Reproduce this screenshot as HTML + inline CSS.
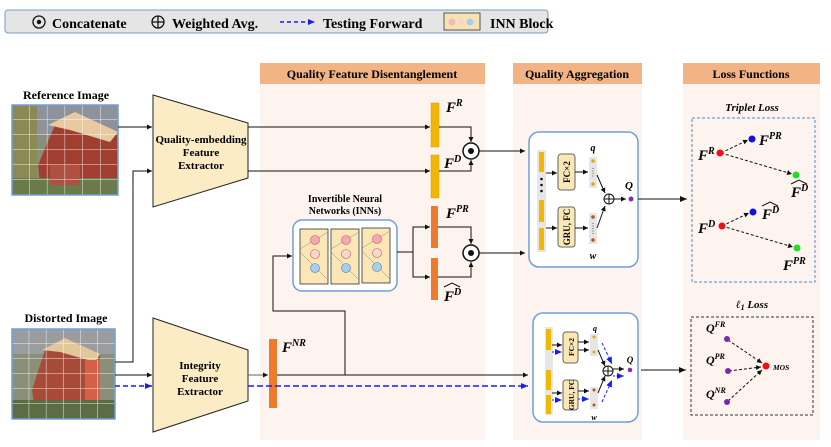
<!DOCTYPE html>
<html><head><meta charset="utf-8"><style>
html,body{margin:0;padding:0;background:#fff;}
svg{display:block;font-family:"Liberation Serif",serif;}
.b{font-weight:bold;}
</style></head><body>
<svg width="831" height="447" viewBox="0 0 831 447" xmlns="http://www.w3.org/2000/svg">
<defs>
<marker id="a" markerWidth="8" markerHeight="8" refX="7" refY="4" orient="auto" markerUnits="userSpaceOnUse"><path d="M0,1 L7,4 L0,7 Z" fill="#111"/></marker>
<marker id="ab" markerWidth="8" markerHeight="8" refX="7" refY="4" orient="auto" markerUnits="userSpaceOnUse"><path d="M0,1 L7,4 L0,7 Z" fill="#1a1aff"/></marker>
<marker id="as" markerWidth="6" markerHeight="6" refX="5" refY="3" orient="auto" markerUnits="userSpaceOnUse"><path d="M0,0.5 L5,3 L0,5.5 Z" fill="#111"/></marker>
<pattern id="grid" x="12" y="105" width="17.7" height="15" patternUnits="userSpaceOnUse"><path d="M17.7,0 V15 M0,15 H17.7" stroke="#fff" stroke-width="1" fill="none" opacity="0.85"/></pattern>
<pattern id="grid2" x="12" y="329" width="17.2" height="15" patternUnits="userSpaceOnUse"><path d="M17.2,0 V15 M0,15 H17.2" stroke="#fff" stroke-width="1" fill="none" opacity="0.85"/></pattern>
</defs>

<rect x="5" y="10" width="543" height="23" rx="3" fill="#e5e5e5" stroke="#7a9ccc" stroke-width="1"/>
<circle cx="39" cy="22" r="6" fill="none" stroke="#111" stroke-width="1.3"/><circle cx="39" cy="22" r="2.2" fill="#111"/>
<text x="52" y="28" class="b" font-size="14">Concatenate</text>
<circle cx="158" cy="22" r="6" fill="none" stroke="#111" stroke-width="1.3"/><path d="M152,22 H164 M158,16 V28" stroke="#111" stroke-width="1.3"/>
<text x="172" y="28" class="b" font-size="14">Weighted Avg.</text>
<line x1="280" y1="22" x2="315" y2="22" stroke="#1a1aff" stroke-width="1.5" stroke-dasharray="4,3" marker-end="url(#ab)"/>
<text x="323" y="28" class="b" font-size="14">Testing Forward</text>
<rect x="444" y="13" width="36" height="17" fill="#f6e3b4" stroke="#555"/>
<circle cx="452" cy="22" r="3.5" fill="#f3b8c0"/><circle cx="461" cy="22" r="3.5" fill="#f7d6c8"/><circle cx="470" cy="22" r="3.5" fill="#a9cdf0"/>
<text x="490" y="28" class="b" font-size="14">INN Block</text>

<rect x="260" y="63" width="225" height="21" fill="#f2b385"/>
<rect x="260" y="84" width="225" height="356" fill="#fdf4f0"/>
<text x="372" y="78" class="b" font-size="12" text-anchor="middle">Quality Feature  Disentanglement</text>
<rect x="513" y="63" width="129" height="21" fill="#f2b385"/>
<rect x="513" y="84" width="129" height="356" fill="#fdf4f0"/>
<text x="577" y="78" class="b" font-size="12" text-anchor="middle">Quality Aggregation</text>
<rect x="683" y="63" width="137" height="21" fill="#f2b385"/>
<rect x="683" y="84" width="137" height="356" fill="#fdf4f0"/>
<text x="751" y="78" class="b" font-size="12" text-anchor="middle">Loss Functions</text>

<text x="66" y="99" class="b" font-size="12" text-anchor="middle">Reference Image</text>
<rect x="12" y="105" width="106" height="90" fill="#8a8f7a"/>
<rect x="12" y="105" width="106" height="30" fill="#8d929c"/>
<rect x="12" y="105" width="25" height="90" fill="#8b8a55"/>
<path d="M38,165 L55,125 L80,115 L118,135 L118,185 L40,185 Z" fill="#a03f30"/>
<path d="M48,125 L75,112 L118,132 L110,142 L70,130 Z" fill="#e8c9a0"/>
<rect x="12" y="178" width="106" height="17" fill="#6b7a4a"/>
<rect x="50" y="165" width="30" height="20" fill="#b05040"/>
<rect x="12" y="105" width="106" height="90" fill="url(#grid)" stroke="#6fa0d8" stroke-width="1.5"/>

<text x="66" y="322" class="b" font-size="12" text-anchor="middle">Distorted Image</text>
<rect x="12" y="329" width="103" height="90" fill="#8b8f78"/>
<rect x="12" y="329" width="103" height="25" fill="#9a9ca0"/>
<path d="M32,390 L45,350 L70,340 L100,355 L100,410 L35,410 Z" fill="#a84a38"/>
<path d="M42,350 L65,338 L100,354 L95,362 L60,352 Z" fill="#e2c79a"/>
<rect x="85" y="360" width="15" height="50" fill="#d4604a"/>
<rect x="12" y="400" width="103" height="19" fill="#5c6d45"/>
<rect x="12" y="329" width="103" height="90" fill="url(#grid2)" stroke="#6fa0d8" stroke-width="1.5"/>

<polygon points="153,95 248,123 248,178 153,207" fill="#fbecc5" stroke="#222" stroke-width="1"/>
<text x="201" y="143" class="b" font-size="11" text-anchor="middle">Quality-embedding</text>
<text x="201" y="156" class="b" font-size="11" text-anchor="middle">Feature</text>
<text x="201" y="169" class="b" font-size="11" text-anchor="middle">Extractor</text>
<polygon points="153,318 248,350 248,401 153,432" fill="#fbecc5" stroke="#222" stroke-width="1"/>
<text x="200" y="369" class="b" font-size="11" text-anchor="middle">Integrity</text>
<text x="200" y="382" class="b" font-size="11" text-anchor="middle">Feature</text>
<text x="200" y="395" class="b" font-size="11" text-anchor="middle">Extractor</text>

<line x1="118" y1="127" x2="152" y2="127" stroke="#111" marker-end="url(#as)"/>
<polyline points="115,362 133,362 133,171 152,171" fill="none" stroke="#111" marker-end="url(#as)"/>
<line x1="115" y1="375" x2="152" y2="375" stroke="#111" marker-end="url(#as)"/>
<line x1="115" y1="386" x2="152" y2="386" stroke="#1a1aff" stroke-width="1.5" stroke-dasharray="5,3" marker-end="url(#ab)"/>

<line x1="248" y1="127" x2="430" y2="127" stroke="#111" marker-end="url(#as)"/>
<line x1="248" y1="171" x2="430" y2="171" stroke="#111" marker-end="url(#as)"/>
<rect x="431" y="103" width="8" height="44" fill="#f2b705" stroke="#d09800" stroke-width="0.5"/>
<rect x="431" y="155" width="8" height="43" fill="#f2b705" stroke="#d09800" stroke-width="0.5"/>
<text x="446" y="112" class="b" font-size="15" font-style="italic">F<tspan font-size="10" dy="-6">R</tspan></text>
<text x="444" y="168" class="b" font-size="15" font-style="italic">F<tspan font-size="10" dy="-6">D</tspan></text>
<polyline points="439,127 471,127 471,142" fill="none" stroke="#111" marker-end="url(#as)"/>
<polyline points="439,171 471,171 471,160" fill="none" stroke="#111" marker-end="url(#as)"/>
<circle cx="471" cy="151" r="8" fill="#fff" stroke="#111" stroke-width="1.5"/><circle cx="471" cy="151" r="3" fill="#111"/>
<line x1="479" y1="151" x2="525" y2="151" stroke="#111" marker-end="url(#as)"/>

<text x="345" y="202" class="b" font-size="10" text-anchor="middle">Invertible Neural</text>
<text x="345" y="214" class="b" font-size="10" text-anchor="middle">Networks (INNs)</text>
<rect x="293" y="220" width="104" height="71" rx="9" fill="#fff" stroke="#6fa0d8" stroke-width="1.5"/>
<g stroke="#333" stroke-width="0.8">
<rect x="300" y="229" width="28" height="55" fill="#fbe7b5"/>
<rect x="331" y="229" width="28" height="55" fill="#fbe7b5"/>
<rect x="362" y="228" width="28" height="55" fill="#fbe7b5"/>
</g>
<g stroke="#888" stroke-width="0.5" fill="none">
<path d="M300,249 L328,232 M300,252 L328,280 M331,249 L359,232 M331,252 L359,280 M362,248 L390,231 M362,251 L390,279"/>
</g>
<g stroke="#c55" stroke-width="0.6">
<circle cx="315" cy="240" r="4.5" fill="#f2a8b5"/><circle cx="346" cy="240" r="4.5" fill="#f2a8b5"/><circle cx="377" cy="239" r="4.5" fill="#f2a8b5"/>
<circle cx="315" cy="254" r="4.5" fill="#f8d8cc"/><circle cx="346" cy="254" r="4.5" fill="#f8d8cc"/><circle cx="377" cy="253" r="4.5" fill="#f8d8cc"/>
</g>
<g stroke="#57a" stroke-width="0.6">
<circle cx="315" cy="268" r="4.5" fill="#a9cdf0"/><circle cx="346" cy="268" r="4.5" fill="#a9cdf0"/><circle cx="377" cy="267" r="4.5" fill="#a9cdf0"/>
</g>
<polyline points="345,375 345,311 273,311 273,256 292,256" fill="none" stroke="#111" marker-end="url(#as)"/>
<line x1="397" y1="252" x2="413" y2="252" stroke="#111"/>
<polyline points="413,252 413,227 430,227" fill="none" stroke="#111" marker-end="url(#as)"/>
<polyline points="413,252 413,277 430,277" fill="none" stroke="#111" marker-end="url(#as)"/>
<rect x="431" y="206" width="7" height="42" fill="#ee7a2e"/>
<rect x="431" y="258" width="7" height="42" fill="#ee7a2e"/>
<text x="446" y="218" class="b" font-size="15" font-style="italic">F<tspan font-size="10" dy="-6">PR</tspan></text>
<text x="444" y="301" class="b" font-size="15" font-style="italic">F<tspan font-size="10" dy="-6">D</tspan></text>
<path d="M444,287 L452,283 L460,287" fill="none" stroke="#111" stroke-width="1"/>
<polyline points="438,227 471,227 471,244" fill="none" stroke="#111" marker-end="url(#as)"/>
<polyline points="438,277 471,277 471,262" fill="none" stroke="#111" marker-end="url(#as)"/>
<circle cx="471" cy="253" r="8" fill="#fff" stroke="#111" stroke-width="1.5"/><circle cx="471" cy="253" r="3" fill="#111"/>
<line x1="479" y1="253" x2="525" y2="253" stroke="#111" marker-end="url(#as)"/>

<rect x="269" y="339" width="8" height="69" fill="#ee7a2e"/>
<text x="282" y="352" class="b" font-size="15" font-style="italic">F<tspan font-size="10" dy="-6">NR</tspan></text>
<line x1="248" y1="375" x2="268" y2="375" stroke="#666" marker-end="url(#as)"/>
<line x1="277" y1="375" x2="528" y2="375" stroke="#111" marker-end="url(#as)"/>
<line x1="248" y1="386" x2="528" y2="386" stroke="#1a1aff" stroke-width="1.5" stroke-dasharray="6,3" marker-end="url(#ab)"/>

<rect x="529" y="132" width="109" height="135" rx="10" fill="#fff" stroke="#6fa0d8" stroke-width="1.5"/>
<rect x="537" y="150" width="9" height="102" fill="#e6e6e6"/>
<rect x="539" y="152" width="5" height="20" fill="#f2b705"/>
<rect x="539" y="200" width="5" height="22" fill="#f2b705"/>
<rect x="539" y="228" width="5" height="22" fill="#f2b705"/>
<circle cx="541.5" cy="179" r="1.3" fill="#111"/><circle cx="541.5" cy="185" r="1.3" fill="#111"/><circle cx="541.5" cy="191" r="1.3" fill="#111"/>
<line x1="546" y1="173" x2="557" y2="173" stroke="#111" marker-end="url(#as)"/>
<line x1="546" y1="228" x2="557" y2="228" stroke="#111" marker-end="url(#as)"/>
<rect x="558" y="154" width="17" height="36" rx="3" fill="#fbe7b5" stroke="#666"/>
<text transform="translate(570,172) rotate(-90)" class="b" font-size="9" text-anchor="middle">FC×2</text>
<rect x="558" y="207" width="17" height="40" rx="3" fill="#fbe7b5" stroke="#666"/>
<text transform="translate(570,227) rotate(-90)" class="b" font-size="9" text-anchor="middle">GRU, FC</text>
<line x1="575" y1="172" x2="588" y2="172" stroke="#111" marker-end="url(#as)"/>
<line x1="575" y1="228" x2="588" y2="228" stroke="#111" marker-end="url(#as)"/>
<rect x="589" y="157" width="8" height="31" fill="#e6e6e6"/>
<rect x="589" y="213" width="8" height="31" fill="#e6e6e6"/>
<circle cx="593" cy="161" r="1.8" fill="#e8a800"/><circle cx="593" cy="184" r="1.8" fill="#e8a800"/>
<path d="M593,168 V178" stroke="#555" stroke-dasharray="1,1.5"/>
<circle cx="593" cy="217" r="1.8" fill="#b5541a"/><circle cx="593" cy="240" r="1.8" fill="#b5541a"/>
<path d="M593,223 V234" stroke="#555" stroke-dasharray="1,1.5"/>
<text x="593" y="151" class="b" font-size="10" font-style="italic" text-anchor="middle">q</text>
<text x="593" y="259" class="b" font-size="10" font-style="italic" text-anchor="middle">w</text>
<line x1="597" y1="175" x2="605" y2="193" stroke="#111" marker-end="url(#as)"/>
<line x1="597" y1="228" x2="605" y2="206" stroke="#111" marker-end="url(#as)"/>
<circle cx="609" cy="199" r="5" fill="#fff" stroke="#111"/><path d="M604,199 H614 M609,194 V204" stroke="#111"/>
<line x1="614" y1="199" x2="626" y2="199" stroke="#111" marker-end="url(#as)"/>
<circle cx="631" cy="199" r="2.5" fill="#8a2bb5"/>
<text x="629" y="189" class="b" font-size="11" font-style="italic" text-anchor="middle">Q</text>
<line x1="638" y1="199" x2="687" y2="199" stroke="#111" marker-end="url(#a)"/>

<rect x="533" y="313" width="105" height="109" rx="10" fill="#fff" stroke="#6fa0d8" stroke-width="1.5"/>
<rect x="545" y="327" width="8" height="88" fill="#e6e6e6"/>
<rect x="546" y="329" width="5" height="21" fill="#f2b705"/>
<rect x="546" y="370" width="5" height="20" fill="#f2b705"/>
<rect x="546" y="395" width="5" height="19" fill="#f2b705"/>
<line x1="552" y1="345" x2="562" y2="345" stroke="#111" marker-end="url(#as)"/>
<line x1="552" y1="352" x2="562" y2="352" stroke="#1a1aff" stroke-dasharray="2,1.5" marker-end="url(#ab)"/>
<line x1="552" y1="393" x2="562" y2="393" stroke="#111" marker-end="url(#as)"/>
<line x1="552" y1="400" x2="562" y2="400" stroke="#1a1aff" stroke-dasharray="2,1.5" marker-end="url(#ab)"/>
<rect x="563" y="332" width="15" height="31" rx="3" fill="#fbe7b5" stroke="#666"/>
<text transform="translate(574,347) rotate(-90)" class="b" font-size="7.5" text-anchor="middle">FC×2</text>
<rect x="563" y="380" width="15" height="30" rx="3" fill="#fbe7b5" stroke="#666"/>
<text transform="translate(574,395) rotate(-90)" class="b" font-size="7.5" text-anchor="middle">GRU, FC</text>
<line x1="578" y1="342" x2="589" y2="342" stroke="#111" marker-end="url(#as)"/>
<line x1="578" y1="350" x2="589" y2="350" stroke="#111" marker-end="url(#as)"/>
<line x1="578" y1="391" x2="589" y2="391" stroke="#111" marker-end="url(#as)"/>
<line x1="578" y1="399" x2="589" y2="399" stroke="#1a1aff" stroke-dasharray="2,1.5" marker-end="url(#ab)"/>
<rect x="590" y="334" width="8" height="22" fill="#e6e6e6"/>
<rect x="590" y="387" width="8" height="22" fill="#e6e6e6"/>
<circle cx="594" cy="337" r="1.5" fill="#e8a800"/><circle cx="594" cy="352" r="1.5" fill="#e8a800"/>
<circle cx="594" cy="390" r="1.5" fill="#b5541a"/><circle cx="594" cy="405" r="1.5" fill="#b5541a"/>
<text x="595" y="331" class="b" font-size="8" font-style="italic" text-anchor="middle">q</text>
<text x="594" y="420" class="b" font-size="8" font-style="italic" text-anchor="middle">w</text>
<line x1="598" y1="350" x2="605" y2="366" stroke="#111" marker-end="url(#as)"/>
<line x1="598" y1="393" x2="605" y2="376" stroke="#111" marker-end="url(#as)"/>
<line x1="602" y1="343" x2="612" y2="364" stroke="#1a1aff" stroke-dasharray="3,2" marker-end="url(#ab)"/>
<line x1="602" y1="402" x2="612" y2="380" stroke="#1a1aff" stroke-dasharray="3,2" marker-end="url(#ab)"/>
<circle cx="608" cy="371" r="5" fill="#fff" stroke="#111"/><path d="M603,371 H613 M608,366 V376" stroke="#111"/>
<line x1="613" y1="369" x2="624" y2="369" stroke="#111" marker-end="url(#as)"/>
<line x1="613" y1="376" x2="624" y2="376" stroke="#1a1aff" stroke-dasharray="2,1.5" marker-end="url(#ab)"/>
<circle cx="630" cy="370" r="2.3" fill="#8a2bb5"/>
<text x="630" y="363" class="b" font-size="9" font-style="italic" text-anchor="middle">Q</text>
<line x1="641" y1="370" x2="686" y2="370" stroke="#111" marker-end="url(#a)"/>

<text x="752" y="111" class="b" font-size="11" font-style="italic" text-anchor="middle">Triplet Loss</text>
<rect x="692" y="118" width="123" height="164" fill="none" stroke="#4a8ad0" stroke-dasharray="3,2"/>
<g stroke="#111" stroke-dasharray="3,2" fill="none">
<line x1="721" y1="153" x2="748" y2="140" marker-end="url(#as)"/>
<line x1="721" y1="153" x2="792" y2="174" marker-end="url(#as)"/>
<line x1="722" y1="226" x2="749" y2="213" marker-end="url(#as)"/>
<line x1="722" y1="226" x2="793" y2="247" marker-end="url(#as)"/>
</g>
<circle cx="720" cy="153" r="3.5" fill="#f01010"/><circle cx="752" cy="139" r="3.5" fill="#1010e0"/><circle cx="796" cy="175" r="3.5" fill="#20e020"/>
<circle cx="722" cy="226" r="3.5" fill="#f01010"/><circle cx="753" cy="212" r="3.5" fill="#1010e0"/><circle cx="797" cy="248" r="3.5" fill="#20e020"/>
<text x="698" y="160" class="b" font-size="15" font-style="italic">F<tspan font-size="10" dy="-6">R</tspan></text>
<text x="759" y="145" class="b" font-size="15" font-style="italic">F<tspan font-size="10" dy="-6">PR</tspan></text>
<text x="791" y="197" class="b" font-size="15" font-style="italic">F<tspan font-size="10" dy="-6">D</tspan></text>
<path d="M791,184 L799,180 L807,184" fill="none" stroke="#111"/>
<text x="698" y="233" class="b" font-size="15" font-style="italic">F<tspan font-size="10" dy="-6">D</tspan></text>
<text x="762" y="219" class="b" font-size="15" font-style="italic">F<tspan font-size="10" dy="-6">D</tspan></text>
<path d="M762,206 L770,202 L778,206" fill="none" stroke="#111"/>
<text x="783" y="270" class="b" font-size="15" font-style="italic">F<tspan font-size="10" dy="-6">PR</tspan></text>

<text x="752" y="308" class="b" font-size="11" font-style="italic" text-anchor="middle">ℓ<tspan font-size="8" dy="2">1</tspan><tspan dy="-2"> Loss</tspan></text>
<rect x="691" y="317" width="122" height="98" fill="none" stroke="#333" stroke-dasharray="3,2"/>
<g stroke="#111" stroke-dasharray="3,2" fill="none">
<line x1="728" y1="340" x2="762" y2="363" marker-end="url(#as)"/>
<line x1="729" y1="371" x2="761" y2="367" marker-end="url(#as)"/>
<line x1="728" y1="401" x2="762" y2="370" marker-end="url(#as)"/>
</g>
<circle cx="727" cy="339" r="3" fill="#7a2ab0"/><circle cx="728" cy="371" r="3" fill="#7a2ab0"/><circle cx="727" cy="402" r="3" fill="#7a2ab0"/>
<circle cx="766" cy="366" r="3.5" fill="#f01010"/>
<text x="706" y="332" class="b" font-size="12" font-style="italic">Q<tspan font-size="8" dy="-5">FR</tspan></text>
<text x="706" y="364" class="b" font-size="12" font-style="italic">Q<tspan font-size="8" dy="-5">PR</tspan></text>
<text x="706" y="398" class="b" font-size="12" font-style="italic">Q<tspan font-size="8" dy="-5">NR</tspan></text>
<text x="773" y="370" class="b" font-size="7.5" font-style="italic">MOS</text>
</svg>
</body></html>
